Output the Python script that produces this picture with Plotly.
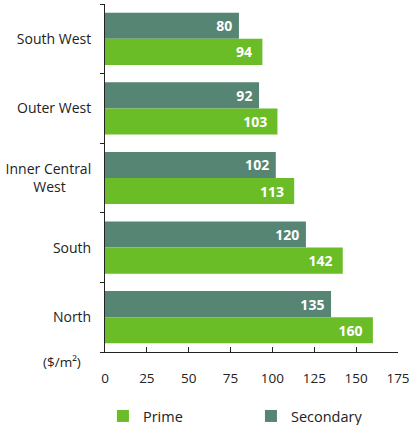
import plotly.graph_objects as go

categories = ["South West", "Outer West", "Inner Central West", "South", "North"]
tick_labels = ["South West", "Outer West", "Inner Central<br>West\u00a0\u00a0\u00a0\u00a0\u00a0\u00a0\u00a0", "South", "North"]
secondary = [80, 92, 102, 120, 135]
prime = [94, 103, 113, 142, 160]
x_ticks = [0, 25, 50, 75, 100, 125, 150, 175]

FONT = "Open Sans, sans-serif"
C_SEC = "#568574"
C_PRIME = "#6bbd28"
TXT = "#222222"

fig = go.Figure()
fig.add_trace(go.Bar(
    y=categories, x=secondary, orientation="h", name="Secondary",
    marker=dict(color=C_SEC, line=dict(width=0)),
    text=[str(v) for v in secondary], textposition="inside", insidetextanchor="end",
    textfont=dict(family=FONT, size=14, color="white", weight="bold"),
    texttemplate="%{text}\u00a0", hoverinfo="skip",
))
fig.add_trace(go.Bar(
    y=categories, x=prime, orientation="h", name="Prime",
    marker=dict(color=C_PRIME, line=dict(width=0)),
    text=[str(v) for v in prime], textposition="inside", insidetextanchor="end",
    textfont=dict(family=FONT, size=14, color="white", weight="bold"),
    texttemplate="%{text}\u00a0\u00a0", hoverinfo="skip",
))

fig.update_layout(
    width=409, height=425,
    margin=dict(l=105, r=11, t=4, b=73, autoexpand=False),
    paper_bgcolor="white", plot_bgcolor="white",
    barmode="group", bargap=0.25, bargroupgap=0,
    font=dict(family=FONT, size=14, color=TXT),
    uniformtext=dict(minsize=8, mode="show"),
    showlegend=True,
    legend=dict(
        orientation="h", traceorder="reversed",
        x=-0.007, xanchor="left", y=-0.184, yanchor="middle",
        font=dict(family=FONT, size=14.5, color=TXT),
        entrywidth=103, entrywidthmode="pixels",
        itemclick=False, itemdoubleclick=False,
    ),
    xaxis=dict(
        range=[0, 175], tickvals=x_ticks, ticktext=[str(t) for t in x_ticks],
        showgrid=False, zeroline=False,
        showline=True, linecolor="#222", linewidth=1,
        ticks="inside", ticklen=5, tickcolor="#222",
        tickfont=dict(family=FONT, size=13.5, color=TXT),
        ticklabelstandoff=14, ticklabeloverflow="allow", fixedrange=True,
    ),
    yaxis=dict(
        categoryorder="array", categoryarray=categories,
        tickvals=categories, ticktext=tick_labels,
        autorange="reversed",
        showgrid=False, zeroline=False,
        showline=True, linecolor="#222", linewidth=1,
        ticks="outside", ticklen=4, tickcolor="#222", tickson="boundaries",
        tickfont=dict(family=FONT, size=14, color=TXT),
        ticklabelstandoff=10, fixedrange=True,
    ),
    annotations=[dict(
        text="($/m²)", xref="paper", yref="paper",
        x=-0.075, y=-0.028, xanchor="right", yanchor="middle",
        showarrow=False, font=dict(family=FONT, size=13.5, color=TXT),
    )],
)

fig.write_html("out.html", config={"displayModeBar": False})
